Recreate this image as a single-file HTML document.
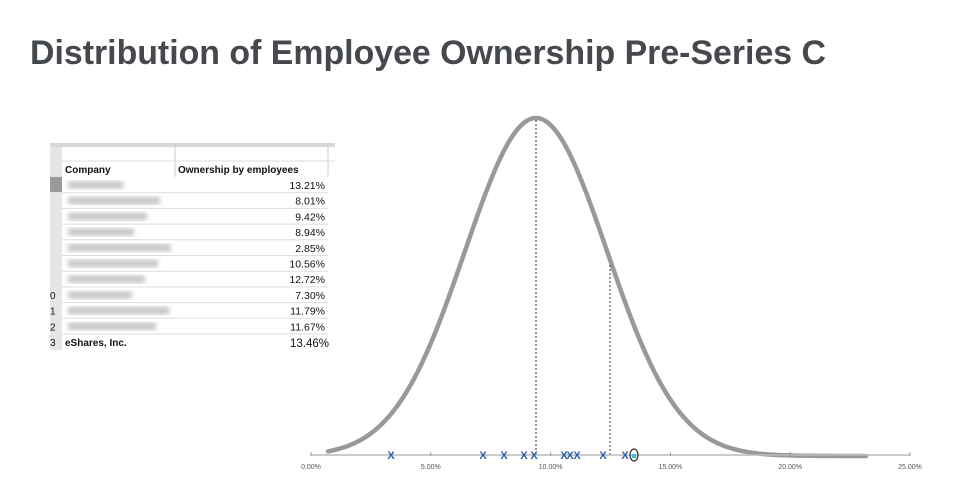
<!DOCTYPE html>
<html><head><meta charset="utf-8"><style>
html,body{margin:0;padding:0;background:#fff;width:959px;height:490px;overflow:hidden}
svg{display:block}
</style></head><body>
<svg id="s" width="959" height="490" viewBox="0 0 959 490" xmlns="http://www.w3.org/2000/svg" font-family="Liberation Sans, Arial, sans-serif">
<defs><filter id="bl"><feGaussianBlur stdDeviation="2.5"/></filter></defs>
<text x="30" y="64" font-size="34" font-weight="bold" fill="#45484d" textLength="796" lengthAdjust="spacingAndGlyphs">Distribution of Employee Ownership Pre-Series C</text>
<g id="tbl">
<rect x="50" y="143" width="285" height="4" fill="#d8d8d8"/>
<rect x="50" y="147" width="12" height="203" fill="#e6e6e6"/>
<rect x="50" y="177" width="12" height="15" fill="#9a9a9a"/>
<line x1="175" y1="143" x2="175" y2="177" stroke="#ccc"/>
<line x1="328" y1="143" x2="328" y2="177" stroke="#ccc"/>
<line x1="62" y1="161" x2="335" y2="161" stroke="#ddd"/>
<text x="65" y="173" font-size="10" font-weight="bold" fill="#111">Company</text>
<text x="178" y="173" font-size="10" font-weight="bold" fill="#111">Ownership by employees</text>
</g>
<path id="curve" fill="none" stroke="#999" stroke-width="4.5" stroke-linecap="round"/>
<line x1="536" y1="120" x2="536" y2="455" stroke="#333" stroke-width="1" stroke-dasharray="2,2"/>
<line x1="610" y1="265" x2="610" y2="455" stroke="#333" stroke-width="1" stroke-dasharray="2,2"/>
<line x1="311" y1="455" x2="910" y2="455" stroke="#bbb" stroke-width="1.5"/>
<g id="ticks" stroke="#999"></g>
<g id="labels" font-size="7" fill="#555" text-anchor="middle"></g>
<g id="marks" font-size="11" font-weight="bold" fill="#2a5db0" text-anchor="middle"></g>
<ellipse cx="634" cy="455" rx="4" ry="6" fill="none" stroke="#333" stroke-width="1.3"/>
<rect x="632" y="454" width="4" height="4" fill="#3cc0f0"/>
</svg>
<script>
var NS="http://www.w3.org/2000/svg";
function el(t,a,p,txt){var e=document.createElementNS(NS,t);for(var k in a)e.setAttribute(k,a[k]);if(txt)e.textContent=txt;document.getElementById(p).appendChild(e);return e;}
var d="";for(var x=328;x<=866;x+=2){var z=(x-536)/71;var y=456-338*Math.exp(-z*z/2);d+=(x==328?"M":"L")+x+","+y.toFixed(1);}
document.getElementById("curve").setAttribute("d",d);
for(var i=0;i<=5;i++){var x=311+i*119.8;el("line",{x1:x,y1:452,x2:x,y2:456},"ticks");el("text",{x:x,y:469},"labels",(i*5).toFixed(2)+"%");}
[391,483,504,524,534,564,570,577,603,625].forEach(function(x){el("text",{x:x,y:459},"marks","X");});
var vals=["13.21%","8.01%","9.42%","8.94%","2.85%","10.56%","12.72%","7.30%","11.79%","11.67%"];
var nums=["","","","","","","","0","1","2"];
for(var i=0;i<10;i++){var y=177+i*15.7;el("line",{x1:62,y1:y+15.7,x2:328,y2:y+15.7,stroke:"#ddd"},"tbl");
el("rect",{x:68,y:y+4,width:55+((i*37)%50),height:8,fill:"#c8c8c8",filter:"url(#bl)"},"tbl");
el("text",{x:325,y:y+12,"font-size":"10.5","text-anchor":"end",fill:"#111"},"tbl",vals[i]);
if(nums[i])el("text",{x:50,y:y+12,"font-size":"10",fill:"#111"},"tbl",nums[i]);}
el("text",{x:50,y:346,"font-size":"10",fill:"#111"},"tbl","3");
el("text",{x:65,y:346,"font-size":"10","font-weight":"bold",fill:"#111"},"tbl","eShares, Inc.");
el("text",{x:329,y:347,"font-size":"11.5","text-anchor":"end",fill:"#111"},"tbl","13.46%");
</script>
</body></html>
